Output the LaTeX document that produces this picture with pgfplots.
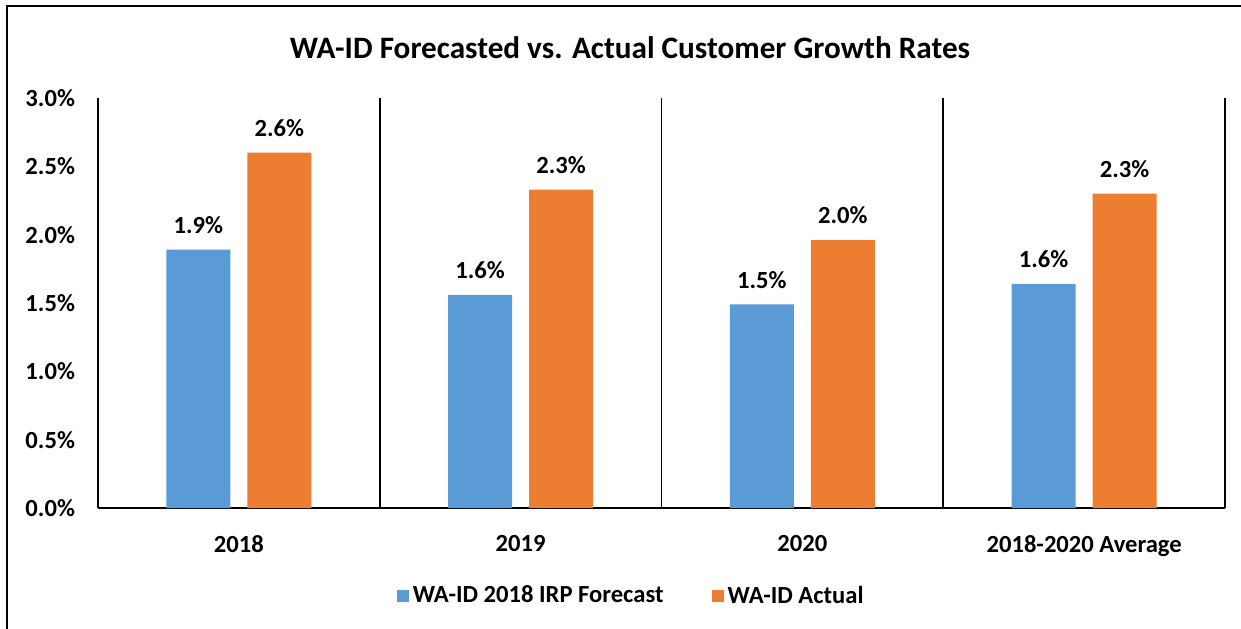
\documentclass[border=0pt]{standalone}
\usepackage{pgfplots}
\pgfplotsset{compat=1.18}
\usepackage{fontspec}
\setmainfont{Carlito}
\definecolor{cblue}{HTML}{5B9BD5}
\definecolor{corange}{HTML}{ED7D31}
\newcommand{\lbl}{\bfseries\fontsize{12.3}{14}\selectfont}
\begin{document}
\begin{tikzpicture}[x=0.5pt,y=0.5pt]
\useasboundingbox (0,0) rectangle (1241,628);
\draw[line width=1pt] (7,-10) -- (7,622) -- (1250,622);
\node[font=\bfseries\fontsize{15.6}{18}\selectfont] at (630,580) {WA-ID Forecasted vs. Actual Customer Growth Rates};
\begin{axis}[
  at={(49pt,60pt)}, anchor=south west,
  scale only axis, width=563.5pt, height=205pt,
  /pgf/number format/assume math mode=true,
  ybar=8.5pt, bar width=32pt,
  xmin=-0.5, xmax=3.5, ymin=0, ymax=3,
  xtick={0,1,2,3},
  xticklabels={2018,2019,2020,2018-2020 Average},
  major x tick style={draw=none},
  extra x ticks={0.5,1.5,2.5,3.5},
  extra x tick labels={},
  extra x tick style={grid=major, major grid style={black, line width=0.8pt}, major tick length=0pt},
  axis x line*=bottom, axis y line*=left,
  axis line style={line width=0.8pt, -},
  ytick={0,0.5,1,1.5,2,2.5,3},
  ytick style={draw=none},
  yticklabel={\pgfmathprintnumber[fixed,fixed zerofill,precision=1]{\tick}\%},
  tick label style={font=\lbl},
  xticklabel style={yshift=-6pt},
  yticklabel style={xshift=-8pt},
  point meta=y,
  nodes near coords={\pgfmathprintnumber[fixed,fixed zerofill,precision=1]{\pgfplotspointmeta}\%},
  every node near coord/.append style={font=\lbl, yshift=4.5pt},
  legend image code/.code={\fill[#1] (0pt,-3pt) rectangle (6pt,3pt);},
  legend style={draw=none, font=\lbl, at={(0.474,-0.2146)}, anchor=center,
    legend columns=2, /tikz/every even column/.append style={column sep=22pt}},
]
\addplot[fill=cblue, draw=none] coordinates {(0,1.89) (1,1.56) (2,1.49) (3,1.64)};
\addplot[fill=corange, draw=none] coordinates {(0,2.60) (1,2.33) (2,1.96) (3,2.30)};
\legend{WA-ID 2018 IRP Forecast, WA-ID Actual}
\end{axis}
\end{tikzpicture}
\end{document}
